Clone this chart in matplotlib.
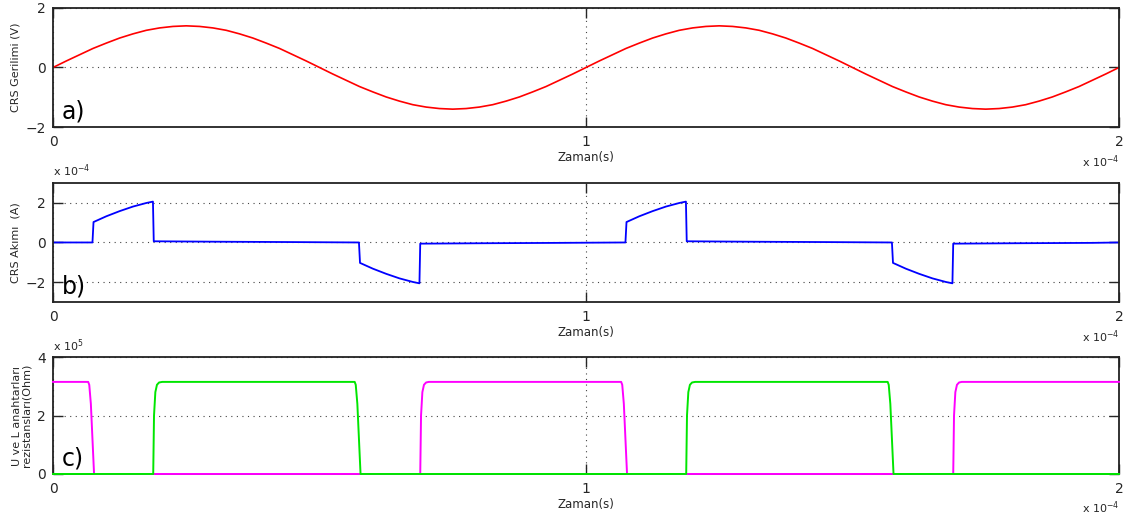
import matplotlib.pyplot as plt

# Zaman ekseni: 1e-4 s birimi
zaman_v = [i * 0.025 for i in range(81)]
gerilim = [0.00, 0.22, 0.43, 0.64, 0.82, 0.99, 1.13, 1.25, 1.33, 1.38,
           1.40, 1.38, 1.33, 1.25, 1.13, 0.99, 0.82, 0.64, 0.43, 0.22,
           0.00, -0.22, -0.43, -0.64, -0.82, -0.99, -1.13, -1.25, -1.33, -1.38,
           -1.40, -1.38, -1.33, -1.25, -1.13, -0.99, -0.82, -0.64, -0.43, -0.22,
           0.00, 0.22, 0.43, 0.64, 0.82, 0.99, 1.13, 1.25, 1.33, 1.38,
           1.40, 1.38, 1.33, 1.25, 1.13, 0.99, 0.82, 0.64, 0.43, 0.22,
           0.00, -0.22, -0.43, -0.64, -0.82, -0.99, -1.13, -1.25, -1.33, -1.38,
           -1.40, -1.38, -1.33, -1.25, -1.13, -0.99, -0.82, -0.64, -0.43, -0.22,
           0.00]

# Akim (x 1e-4 A)
zaman_i = [0.0, 0.074, 0.076, 0.1, 0.125, 0.15, 0.175, 0.1875, 0.189, 0.3, 0.45,
           0.574, 0.576, 0.6, 0.625, 0.65, 0.675, 0.6875, 0.689, 0.8, 0.95,
           1.074, 1.076, 1.1, 1.125, 1.15, 1.175, 1.1875, 1.189, 1.3, 1.45,
           1.574, 1.576, 1.6, 1.625, 1.65, 1.675, 1.6875, 1.689, 1.8, 1.95, 2.0]
akim = [0.0, 0.0, 1.03, 1.32, 1.58, 1.81, 1.99, 2.06, 0.06, 0.04, 0.02,
        0.0, -1.03, -1.32, -1.58, -1.81, -1.99, -2.06, -0.06, -0.04, -0.02,
        0.0, 1.03, 1.32, 1.58, 1.81, 1.99, 2.06, 0.06, 0.04, 0.02,
        0.0, -1.03, -1.32, -1.58, -1.81, -1.99, -2.06, -0.06, -0.04, -0.02, 0.0]

# Rezistanslar (x 1e5 Ohm)
zaman_l = [0.0, 0.066, 0.068, 0.071, 0.074, 0.077, 0.689, 0.6905, 0.693, 0.696, 0.70, 0.705,
           1.066, 1.068, 1.071, 1.074, 1.077, 1.689, 1.6905, 1.693, 1.696, 1.70, 1.705, 2.0]
rez_l = [3.15, 3.15, 3.05, 2.4, 1.2, 0.0, 0.0, 2.0, 2.8, 3.05, 3.13, 3.15,
         3.15, 3.05, 2.4, 1.2, 0.0, 0.0, 2.0, 2.8, 3.05, 3.13, 3.15, 3.15]
zaman_u = [0.0, 0.188, 0.1895, 0.192, 0.195, 0.199, 0.205, 0.566, 0.568, 0.571, 0.574, 0.577,
           1.188, 1.1895, 1.192, 1.195, 1.199, 1.205, 1.566, 1.568, 1.571, 1.574, 1.577, 2.0]
rez_u = [0.0, 0.0, 2.0, 2.8, 3.05, 3.13, 3.15, 3.15, 3.05, 2.4, 1.2, 0.0,
         0.0, 2.0, 2.8, 3.05, 3.13, 3.15, 3.15, 3.05, 2.4, 1.2, 0.0, 0.0]

plt.rcParams['font.family'] = ['DejaVu Sans']
txt = '#262626'

fig = plt.figure(figsize=(11.28, 5.22), dpi=100)
ax_a = fig.add_axes([0.047, 0.7567, 0.945, 0.228])
ax_b = fig.add_axes([0.047, 0.4215, 0.945, 0.228])
ax_c = fig.add_axes([0.047, 0.092, 0.945, 0.224])

ax_a.plot(zaman_v, gerilim, color='#ff0000', lw=1.2)
ax_b.plot(zaman_i, akim, color='#0000ff', lw=1.3)
ax_c.plot(zaman_l, rez_l, color='#ff00ff', lw=1.4, clip_on=False, zorder=3)
ax_c.plot(zaman_u, rez_u, color='#00e600', lw=1.4, clip_on=False, zorder=3.1)

ax_a.set_ylim(-2, 2)
ax_a.set_yticks([-2, 0, 2])
ax_b.set_ylim(-3, 3)
ax_b.set_yticks([-2, 0, 2])
ax_c.set_ylim(0, 4)
ax_c.set_yticks([0, 2, 4])

ylabels = ['CRS Gerilimi (V)', 'CRS Akımı  (A)', 'U ve L anahtarları\nrezistansları(Ohm)']
panel = ['a)', 'b)', 'c)']
for ax, yl, p in zip([ax_a, ax_b, ax_c], ylabels, panel):
    ax.set_xlim(0, 2)
    ax.set_xticks([0, 1, 2])
    ax.set_xticklabels(['0', '1', '2'])
    ax.tick_params(direction='in', length=7, width=1, top=True, right=True,
                   labelsize=10, colors=txt, pad=5)
    ax.tick_params(axis='x', pad=6)
    for s in ax.spines.values():
        s.set_linewidth(1.3)
        s.set_color('#222222')
    ax.grid(True, linestyle=(0, (1, 4)), color='#444444', lw=0.8)
    ax.set_xlabel('Zaman(s)', fontsize=8.5, color=txt, labelpad=1)
    ax.set_ylabel(yl, fontsize=8, color=txt, labelpad=4, linespacing=1.0)
    ax.text(0.008, 0.03, p, transform=ax.transAxes, fontsize=17, color='black',
            ha='left', va='bottom')
    ax.text(1.0, -0.22, r'x 10$^{-4}$', transform=ax.transAxes, fontsize=8,
            color=txt, ha='right', va='top')

ax_b.text(0.0, 1.03, r'x 10$^{-4}$', transform=ax_b.transAxes, fontsize=8,
          color=txt, ha='left', va='bottom')
ax_c.text(0.0, 1.03, r'x 10$^{5}$', transform=ax_c.transAxes, fontsize=8,
          color=txt, ha='left', va='bottom')

fig.savefig('out.png', dpi=100)
